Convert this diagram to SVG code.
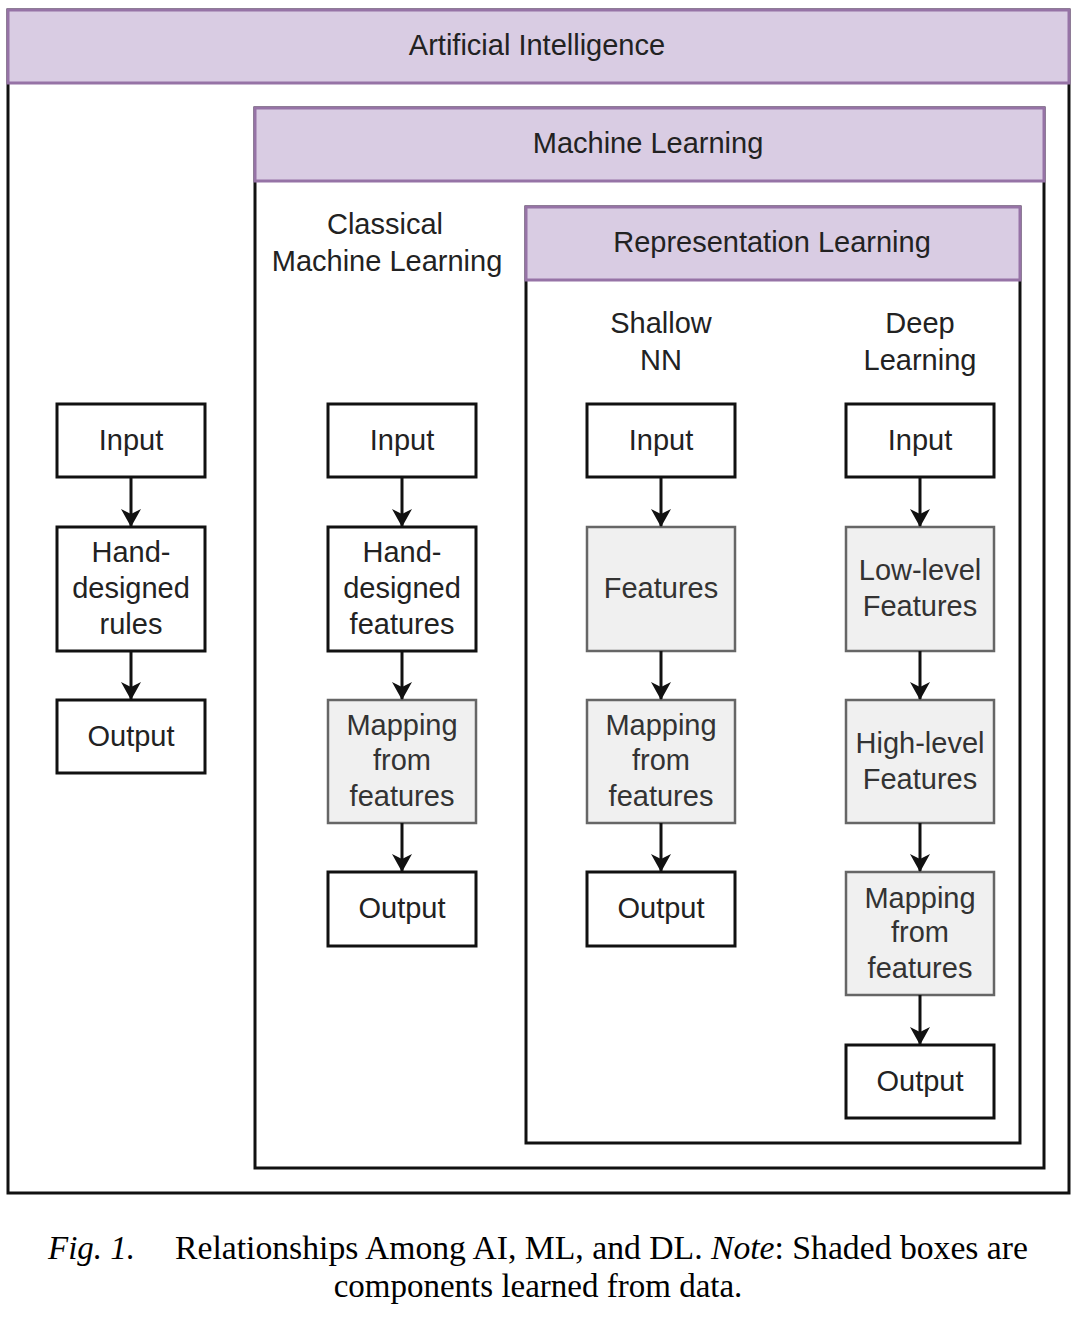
<svg xmlns="http://www.w3.org/2000/svg" width="1080" height="1320" viewBox="0 0 1080 1320">
<defs>
<style>
.frame{fill:#fff;stroke:#111;stroke-width:3}
.hdr{fill:#d9cce3;stroke:#9673a6;stroke-width:3}
.box{fill:#fff;stroke:#111;stroke-width:3}
.sh{fill:#f0f0f0;stroke:#666;stroke-width:2.5}
.t{font-family:"Liberation Sans",Arial,sans-serif;font-size:29px;fill:#222;text-anchor:middle}
.ts{font-family:"Liberation Sans",Arial,sans-serif;font-size:29px;fill:#333;text-anchor:middle}
.cap{font-family:"Liberation Serif","Times New Roman",serif;font-size:33px;fill:#000}
.conn{stroke:#111;stroke-width:3;fill:none;marker-end:url(#ah)}
</style>
<marker id="ah" viewBox="0 0 18 20" refX="17" refY="10" markerWidth="18" markerHeight="20" markerUnits="userSpaceOnUse" orient="auto">
<path d="M0,0 L18,10 L0,20 L5,10 z" fill="#111"/>
</marker>
</defs>
<rect width="1080" height="1320" fill="#fff"/>

<g id="ai">
<rect class="frame" x="8" y="10" width="1061" height="1183"/>
<rect class="hdr" x="8" y="10" width="1061" height="73"/>
<text class="t" x="537" y="55">Artificial Intelligence</text>
</g>
<g id="ml">
<rect class="frame" x="255" y="108" width="789" height="1060"/>
<rect class="hdr" x="255" y="108" width="789" height="73"/>
<text class="t" x="648" y="153">Machine Learning</text>
</g>
<g id="classical-label">
<text class="t" x="385" y="234">Classical</text>
<text class="t" x="387" y="271">Machine Learning</text>
</g>
<g id="rl">
<rect class="frame" x="526" y="207" width="494" height="936"/>
<rect class="hdr" x="526" y="207" width="494" height="73"/>
<text class="t" x="772" y="252">Representation Learning</text>
</g>
<g id="shallow-label">
<text class="t" x="661" y="333">Shallow</text>
<text class="t" x="661" y="370">NN</text>
</g>
<g id="deep-label">
<text class="t" x="920" y="333">Deep</text>
<text class="t" x="920" y="370">Learning</text>
</g>

<!-- column 1 -->
<g id="c1-input"><rect class="box" x="57" y="404" width="148" height="73"/><text class="t" x="131" y="450">Input</text></g>
<g id="c1-rules"><rect class="box" x="57" y="527" width="148" height="124"/><text class="t" x="131" y="562">Hand-</text><text class="t" x="131" y="598">designed</text><text class="t" x="131" y="634">rules</text></g>
<g id="c1-output"><rect class="box" x="57" y="700" width="148" height="73"/><text class="t" x="131" y="746">Output</text></g>

<!-- column 2 -->
<g id="c2-input"><rect class="box" x="328" y="404" width="148" height="73"/><text class="t" x="402" y="450">Input</text></g>
<g id="c2-features"><rect class="box" x="328" y="527" width="148" height="124"/><text class="t" x="402" y="562">Hand-</text><text class="t" x="402" y="598">designed</text><text class="t" x="402" y="634">features</text></g>
<g id="c2-mapping"><rect class="sh" x="328" y="700" width="148" height="123"/><text class="ts" x="402" y="735">Mapping</text><text class="ts" x="402" y="770">from</text><text class="ts" x="402" y="806">features</text></g>
<g id="c2-output"><rect class="box" x="328" y="872" width="148" height="74"/><text class="t" x="402" y="918">Output</text></g>

<!-- column 3 -->
<g id="c3-input"><rect class="box" x="587" y="404" width="148" height="73"/><text class="t" x="661" y="450">Input</text></g>
<g id="c3-features"><rect class="sh" x="587" y="527" width="148" height="124"/><text class="ts" x="661" y="598">Features</text></g>
<g id="c3-mapping"><rect class="sh" x="587" y="700" width="148" height="123"/><text class="ts" x="661" y="735">Mapping</text><text class="ts" x="661" y="770">from</text><text class="ts" x="661" y="806">features</text></g>
<g id="c3-output"><rect class="box" x="587" y="872" width="148" height="74"/><text class="t" x="661" y="918">Output</text></g>

<!-- column 4 -->
<g id="c4-input"><rect class="box" x="846" y="404" width="148" height="73"/><text class="t" x="920" y="450">Input</text></g>
<g id="c4-low"><rect class="sh" x="846" y="527" width="148" height="124"/><text class="ts" x="920" y="580">Low-level</text><text class="ts" x="920" y="616">Features</text></g>
<g id="c4-high"><rect class="sh" x="846" y="700" width="148" height="123"/><text class="ts" x="920" y="753">High-level</text><text class="ts" x="920" y="789">Features</text></g>
<g id="c4-mapping"><rect class="sh" x="846" y="872" width="148" height="123"/><text class="ts" x="920" y="908">Mapping</text><text class="ts" x="920" y="942">from</text><text class="ts" x="920" y="978">features</text></g>
<g id="c4-output"><rect class="box" x="846" y="1045" width="148" height="73"/><text class="t" x="920" y="1091">Output</text></g>

<g id="connectors">
<line class="conn" x1="131" y1="477" x2="131" y2="526"/>
<line class="conn" x1="131" y1="651" x2="131" y2="699"/>
<line class="conn" x1="402" y1="477" x2="402" y2="526"/>
<line class="conn" x1="402" y1="651" x2="402" y2="699"/>
<line class="conn" x1="402" y1="823" x2="402" y2="871"/>
<line class="conn" x1="661" y1="477" x2="661" y2="526"/>
<line class="conn" x1="661" y1="651" x2="661" y2="699"/>
<line class="conn" x1="661" y1="823" x2="661" y2="871"/>
<line class="conn" x1="920" y1="477" x2="920" y2="526"/>
<line class="conn" x1="920" y1="651" x2="920" y2="699"/>
<line class="conn" x1="920" y1="823" x2="920" y2="871"/>
<line class="conn" x1="920" y1="995" x2="920" y2="1044"/>
</g>

<g id="caption">
<text class="cap" x="48" y="1259"><tspan font-style="italic">Fig. 1.</tspan></text>
<text class="cap" x="175" y="1259" textLength="853" lengthAdjust="spacingAndGlyphs">Relationships Among AI, ML, and DL. <tspan font-style="italic">Note</tspan>: Shaded boxes are</text>
<text class="cap" x="538" y="1297" text-anchor="middle">components learned from data.</text>
</g>
</svg>
